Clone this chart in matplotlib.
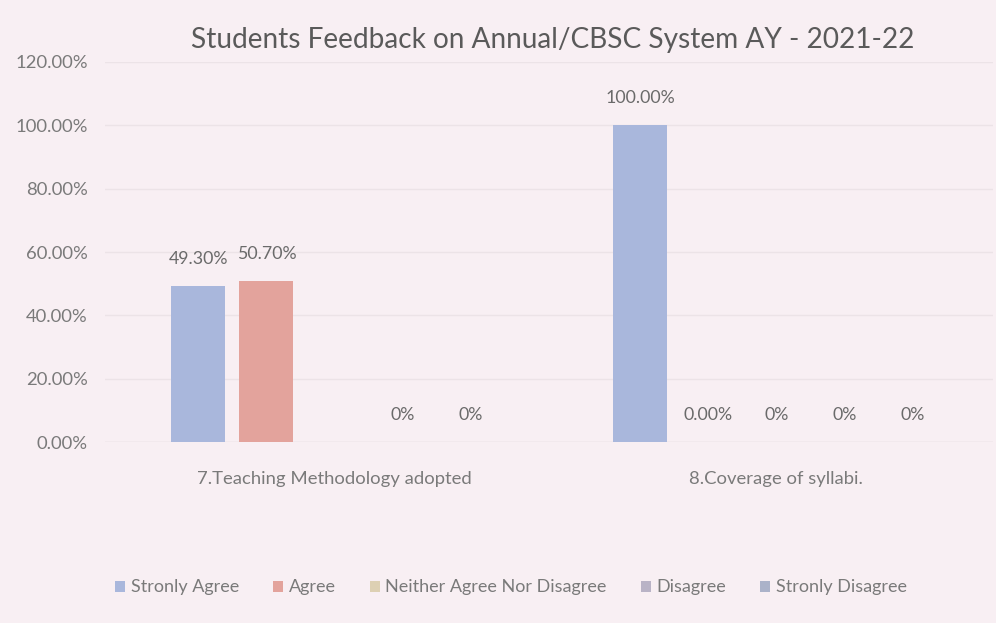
import numpy as np
import matplotlib
matplotlib.use("Agg")
import matplotlib.pyplot as plt

categories = ["7.Teaching Methodology adopted", "8.Coverage of syllabi."]
series_names = ["Stronly Agree", "Agree", "Neither Agree Nor Disagree", "Disagree", "Stronly Disagree"]
strongly_agree = [49.30, 100.00]
agree = [50.70, 0.00]
neither = [np.nan, 0.0]
disagree = [0.0, 0.0]
strongly_disagree = [0.0, 0.0]
labels = [
    ["49.30%", "100.00%"],
    ["50.70%", "0.00%"],
    ["", "0%"],
    ["0%", "0%"],
    ["0%", "0%"],
]
y_ticks = [0, 20, 40, 60, 80, 100, 120]
y_tick_labels = ["0.00%", "20.00%", "40.00%", "60.00%", "80.00%", "100.00%", "120.00%"]

colors = ["#a9b7dc", "#e3a39c", "#ddd0b3", "#b9b3c6", "#abb2c9"]
bg = "#f8eff3"
txt = "#7a7a7a"

plt.rcParams['font.family'] = ['Lato', 'DejaVu Sans']

fig = plt.figure(figsize=(9.96, 6.23), dpi=100, facecolor=bg)
ax = fig.add_axes([0.105, 0.2905, 0.892, 0.61])
ax.set_facecolor(bg)

x = np.arange(len(categories))
pitch = 0.154
width = 0.122
all_vals = [strongly_agree, agree, neither, disagree, strongly_disagree]
for i, (vals, name, c) in enumerate(zip(all_vals, series_names, colors)):
    pos = x + (i - 2) * pitch
    ax.bar(pos, vals, width=width, color=c, label=name, zorder=3)
    for p, v, lab in zip(pos, vals, labels[i]):
        if lab:
            vv = 0 if np.isnan(v) else v
            ax.text(p, vv + 6, lab, ha='center', va='bottom', fontsize=12.8, color="#6a6a6a")

ax.set_xlim(-0.52, 1.49)
ax.set_ylim(0, 120)
ax.set_yticks(y_ticks)
ax.set_yticklabels(y_tick_labels, color=txt, fontsize=13.3)
ax.set_xticks(x)
ax.set_xticklabels(categories, color=txt, fontsize=13.3)
ax.tick_params(axis='x', length=0, pad=21)
ax.tick_params(axis='y', length=0, pad=12)
ax.grid(axis='y', color="#ece3e7", linewidth=1, zorder=0)
for s in ax.spines.values():
    s.set_visible(False)
ax.axhline(0, color="#e6dde1", linewidth=1, zorder=2)

fig.text(0.555, 0.935, "Students Feedback on Annual/CBSC System AY - 2021-22",
         ha='center', va='center', fontsize=20.2, color="#5a5a5a")

handles, lbls = ax.get_legend_handles_labels()
fig.legend(handles, lbls, loc='center', bbox_to_anchor=(0.513, 0.057), ncol=5,
           frameon=False, fontsize=13, handlelength=0.55, handleheight=0.55,
           columnspacing=1.9, handletextpad=0.3, labelcolor=txt)

fig.savefig("out.png", dpi=100, facecolor=bg)
